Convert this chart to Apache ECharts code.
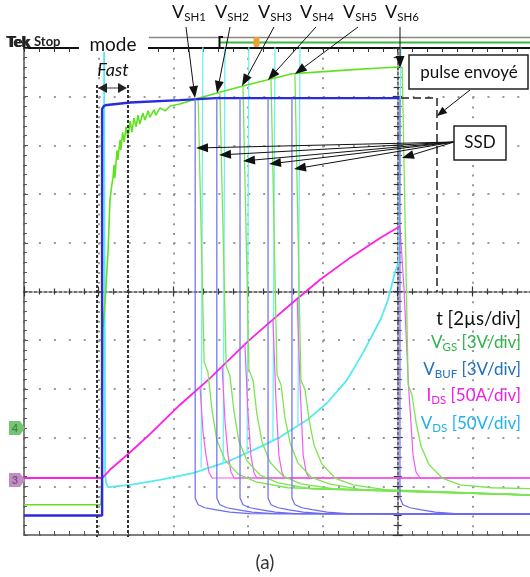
<!DOCTYPE html>
<html><head><meta charset="utf-8">
<script src="https://cdn.jsdelivr.net/npm/echarts@6/dist/echarts.min.js"></script>
<style>html,body{margin:0;padding:0;background:#fff}#c{width:530px;height:577px}</style>
</head><body><div id="c"></div>
<script>
// x: time in µs relative to trigger (2 µs/div), y: screen divisions (10 div tall)
const xRange = [-10, 4];
const yRange = [-5, 5];

// V_GS (green) common rising part
const vgsRise = [[-10,-4.38],[-7.94,-4.38],[-7.91,-3.66],[-7.89,-0.79],[-7.83,-0.17],[-7.81,0.03],[-7.75,0.85],[-7.70,1.88],[-7.65,2.19],[-7.62,2.33],[-7.59,2.60],[-7.57,2.33],[-7.51,2.90],[-7.49,2.70],[-7.43,3.11],[-7.41,2.90],[-7.36,3.27],[-7.32,3.07],[-7.27,3.38],[-7.22,3.15],[-7.16,3.50],[-7.11,3.27],[-7.06,3.56],[-7.00,3.38],[-6.95,3.62],[-6.90,3.44],[-6.82,3.66],[-6.76,3.52],[-6.68,3.71],[-6.63,3.58],[-6.52,3.73],[-6.47,3.62],[-6.36,3.77],[-6.22,3.71],[-6.09,3.81],[-5.83,3.85],[-5.42,3.95],[-4.81,4.08],[-4.14,4.22],[-3.42,4.36],[-2.83,4.47],[-2.08,4.51],[-1.28,4.55],[-0.47,4.59],[0.03,4.61]];
// V_GS turn-off tails, one per shot (SH1..SH6)
const vgsOff = [
 [[-5.34,3.96],[-5.18,-1.45],[-5.08,-1.65],[-4.97,-2.43],[-4.84,-3.05],[-4.62,-3.46],[-4.27,-3.75],[-3.79,-3.91],[-2.94,-4.03],[3.6,-4.18]],
 [[-4.76,4.10],[-4.59,-1.53],[-4.49,-1.73],[-4.38,-2.47],[-4.25,-3.07],[-4.03,-3.48],[-3.68,-3.77],[-3.20,-3.93],[-2.35,-4.05],[3.6,-4.18]],
 [[-4.14,4.22],[-3.98,-1.61],[-3.87,-1.82],[-3.77,-2.51],[-3.63,-3.09],[-3.42,-3.50],[-3.07,-3.79],[-2.59,-3.95],[-1.73,-4.05],[3.6,-4.18]],
 [[-3.39,4.36],[-3.23,-1.71],[-3.12,-1.92],[-3.02,-2.58],[-2.88,-3.11],[-2.67,-3.52],[-2.32,-3.81],[-1.84,-3.95],[-0.98,-4.07],[3.6,-4.18]],
 [[-2.75,4.47],[-2.59,-1.82],[-2.48,-2.02],[-2.37,-2.64],[-2.24,-3.15],[-2.03,-3.54],[-1.68,-3.83],[-1.20,-3.97],[-0.34,-4.07],[3.6,-4.18]],
 [[0.12,4.61],[0.28,-1.92],[0.38,-2.12],[0.49,-2.68],[0.62,-3.17],[0.84,-3.56],[1.19,-3.83],[1.67,-3.97],[2.52,-4.03],[3.6,-4.05]]
];
// V_BUF (blue)
const vbufRise = [[-10,-4.6],[-7.91,-4.6],[-7.91,3.75],[-7.86,3.81],[-7.78,3.83],[-7.16,3.88],[-5.83,3.93],[-4.87,3.97],[0.05,3.97]];
const vbufOff = [
 [[-5.42,3.97],[-5.42,-4.24],[-5.34,-4.38],[-5.16,-4.44],[-4.89,-4.48],[-4.49,-4.53],[-3.95,-4.56],[3.6,-4.57]],
 [[-4.84,3.97],[-4.84,-4.24],[-4.76,-4.38],[-4.57,-4.44],[-4.30,-4.48],[-3.90,-4.53],[-3.36,-4.56],[3.6,-4.57]],
 [[-4.22,3.97],[-4.22,-4.24],[-4.14,-4.38],[-3.95,-4.44],[-3.68,-4.48],[-3.28,-4.53],[-2.75,-4.56],[3.6,-4.57]],
 [[-3.47,3.97],[-3.47,-4.24],[-3.39,-4.38],[-3.20,-4.44],[-2.94,-4.48],[-2.53,-4.53],[-2.00,-4.56],[3.6,-4.57]],
 [[-2.83,3.97],[-2.83,-4.24],[-2.75,-4.38],[-2.56,-4.44],[-2.29,-4.48],[-1.89,-4.53],[-1.36,-4.56],[3.6,-4.57]],
 [[0.06,3.97],[0.06,-4.24],[0.14,-4.38],[0.33,-4.44],[0.60,-4.48],[1.00,-4.53],[1.53,-4.56],[3.6,-4.57]]
];
// I_DS (magenta)
const idsRise = [[-10,-3.83],[-7.91,-3.83],[-7.78,-3.73],[-7.70,-3.66],[-7.16,-3.30],[-6.63,-2.93],[-5.83,-2.33],[-5.02,-1.78],[-4.03,-1.04],[-3.42,-0.63],[-2.80,-0.22],[-2.08,0.24],[-1.28,0.69],[-0.47,1.10],[0.06,1.34]];
const idsOff = [
 [[-5.29,-1.96],[-5.21,-2.88],[-5.13,-3.36],[-5.05,-3.71],[-4.97,-3.83],[3.6,-3.83]],
 [[-4.70,-1.53],[-4.62,-2.68],[-4.54,-3.36],[-4.46,-3.71],[-4.38,-3.83],[3.6,-3.83]],
 [[-4.09,-1.08],[-4.01,-2.45],[-3.93,-3.36],[-3.85,-3.71],[-3.77,-3.83],[3.6,-3.83]],
 [[-3.34,-0.56],[-3.26,-2.19],[-3.18,-3.36],[-3.10,-3.71],[-3.02,-3.83],[3.6,-3.83]],
 [[-2.69,-0.17],[-2.61,-2.00],[-2.53,-3.36],[-2.45,-3.71],[-2.37,-3.83],[3.6,-3.83]],
 [[0.06,1.34],[0.17,0.03],[0.28,-1.82],[0.41,-3.36],[0.49,-3.71],[0.60,-3.83],[3.6,-3.83]]
];
// V_DS (cyan)
const vdsCurve = [[-10,5.8],[-7.86,5.8],[-7.83,-3.66],[-7.81,-3.91],[-7.75,-4.02],[-7.57,-4.00],[-7.16,-3.97],[-6.36,-3.87],[-5.48,-3.73],[-4.57,-3.50],[-3.68,-3.19],[-3.15,-2.99],[-2.43,-2.64],[-1.89,-2.29],[-1.36,-1.82],[-0.93,-1.26],[-0.45,-0.56],[-0.26,-0.17],[-0.07,0.40],[0.03,0.61]];
const vdsOff = [
 [[-5.26,-3.62],[-5.21,5.8]],
 [[-4.67,-3.52],[-4.62,5.8]],
 [[-4.03,-3.33],[-3.98,5.8]],
 [[-3.34,-3.06],[-3.28,5.8]],
 [[-2.67,-2.76],[-2.61,5.8]],
 [[0.03,0.61],[0.09,5.8]]
];
const shotLabels = ['SH1','SH2','SH3','SH4','SH5','SH6'];
const legendRows = [
 {main:'t [2µs/div]', sub:'', rest:'', color:'#111'},
 {main:'V', sub:'GS', rest:' [3V/div]', color:'#2fb34a'},
 {main:'V', sub:'BUF', rest:' [3V/div]', color:'#2070c0'},
 {main:'I', sub:'DS', rest:' [50A/div]', color:'#f01ee6'},
 {main:'V', sub:'DS', rest:' [50V/div]', color:'#1fb2ef'}
];

const FONT = 'Lato, "Open Sans", sans-serif';
const mctx = document.createElement('canvas').getContext('2d');
function textW(s, font){ mctx.font = font; return mctx.measureText(s).width; }
const G = [];
function txt(x, y, s, font, fill, align, z){
  G.push({type:'text', x:x, y:y, z:z||120, silent:true,
    style:{text:s, font:font, fill:fill||'#111', textAlign:align||'left', textVerticalAlign:'middle', align:align||'left', verticalAlign:'middle'}});
}
function ln(x1,y1,x2,y2,stroke,lw,dash,z){
  G.push({type:'line', z:z||110, silent:true, shape:{x1,y1,x2,y2}, style:{stroke:stroke||'#111', lineWidth:lw||1, lineDash:dash||null}});
}
function head(x1,y1,x2,y2,L,W,fill){
  const dx=x2-x1, dy=y2-y1, d=Math.hypot(dx,dy), ux=dx/d, uy=dy/d;
  const bx=x2-ux*L, by=y2-uy*L, px=-uy*W/2, py=ux*W/2;
  G.push({type:'polygon', z:115, silent:true, shape:{points:[[x2,y2],[bx+px,by+py],[bx-px,by-py]]}, style:{fill:fill||'#111'}});
  return [bx,by];
}
function arrow(x1,y1,x2,y2,L,W,lw){
  const b = head(x1,y1,x2,y2,L||11,W||9);
  ln(x1,y1,b[0],b[1],'#111',lw||1);
}
function subText(x, y, parts, fill, alignRight){
  const fonts = parts.map(p => p[1]);
  const widths = parts.map((p,i) => textW(p[0], fonts[i]));
  const total = widths.reduce((a,b)=>a+b,0);
  let cx = alignRight ? x - total : x;
  parts.forEach((p,i) => { if (p[0]) txt(cx, y + (p[2]||0), p[0], p[1], fill, 'left'); cx += widths[i]; });
}

// ---- top ribbon & header ----
G.push({type:'rect', z:50, silent:true, shape:{x:79, y:44, width:69, height:8}, style:{fill:'#fff'}});
ln(149,37.5,530,37.5,'#888',1.5,null,60);
ln(220,42.5,530,42.5,'#3cb83c',2,null,60);
G.push({type:'polyline', z:61, silent:true, shape:{points:[[223,37],[219.5,37],[219.5,48],[223,48]]}, style:{stroke:'#111', lineWidth:2, fill:null}});
G.push({type:'rect', z:61, silent:true, shape:{x:253.5, y:37, width:6, height:10, r:2}, style:{fill:'#f0a030'}});
txt(6, 42, 'Tek', 'bold 15px ' + FONT, '#222');
txt(7.5, 42, 'Tek', 'bold 15px ' + FONT, '#222');
txt(34, 42, 'Stop', 'bold 13px ' + FONT, '#222');
txt(113, 45, 'mode', '19px ' + FONT, '#111', 'center');
txt(113, 70, 'Fast', 'italic 18px ' + FONT, '#111', 'center');

// Fast box
ln(97,85,97,537,'#333',2,[3,2]);
ln(128,85,128,537,'#333',2,[3,2]);
{ const a = head(110,88,98,88,9,10,'#222'); const b = head(115,88,127,88,9,10,'#222'); ln(a[0],88,b[0],88,'#777',1.5); }

// V_SH labels and arrows
const shX = [172, 215, 258, 300, 343, 385];
const shFrom = [[186,27],[230,27],[274,27],[316,27],[358,27],[400,27]];
const shTip = [[195,98],[217,93],[242,86],[268,80],[295,74],[400,68]];
shotLabels.forEach((s,i) => {
  subText(shX[i], 12, [['V','18px '+FONT,0],[s,'11.5px '+FONT,5]], '#111', false);
  arrow(shFrom[i][0], shFrom[i][1], shTip[i][0], shTip[i][1], 12, 9, 1);
});

// pulse envoyé
G.push({type:'rect', z:112, silent:true, shape:{x:409, y:55, width:119, height:34}, style:{fill:'#fff', stroke:'#222', lineWidth:1.5}});
txt(469, 73, 'pulse envoyé', '17px ' + FONT, '#111', 'center');
arrow(470, 90, 437, 116, 10, 8, 1);
G.push({type:'polyline', z:110, silent:true, shape:{points:[[401,98],[437,98],[437,292]]}, style:{stroke:'#222', lineWidth:1.5, lineDash:[8,4], fill:null}});

// SSD
G.push({type:'rect', z:112, silent:true, shape:{x:454, y:126, width:52, height:34}, style:{fill:'#fff', stroke:'#222', lineWidth:1.5}});
txt(480, 143, 'SSD', '17px ' + FONT, '#111', 'center');
const ssdTips = [[196,148],[219,155],[243,161],[269,164],[294,169],[402,158]];
ssdTips.forEach(t => arrow(454, 142, t[0], t[1], 12, 9, 1));

// legend block
const legY = [319, 343, 370, 396, 424];
legendRows.forEach((r,i) => {
  const fs = i === 0 ? 18.5 : 17;
  subText(521, legY[i], [[r.main,fs+'px '+FONT,0],[r.sub,'11.5px '+FONT,4],[r.rest,fs+'px '+FONT,0]], r.color, true);
});

// channel tags
G.push({type:'polygon', z:115, silent:true, shape:{points:[[9,421],[20,421],[25,428],[20,435],[9,435]]}, style:{fill:'#74c474'}});
txt(15, 428.5, '4', 'bold 11px ' + FONT, '#3d8b3d', 'center');
G.push({type:'polygon', z:115, silent:true, shape:{points:[[9,473],[20,473],[25,480],[20,487],[9,487]]}, style:{fill:'#c48bc4'}});
txt(15, 480.5, '3', 'bold 11px ' + FONT, '#7a4f7a', 'center');

txt(265, 563, '(a)', '19px ' + FONT, '#333', 'center');

// ---- series ----
function S(data, color, width, z){
  return {type:'line', data:data, xAxisIndex:0, yAxisIndex:0, symbol:'none', showSymbol:false, clip:true, animation:false, silent:true, z:z||2, lineStyle:{color:color, width:width}};
}
const series = [];
series.push(S(vdsCurve, '#55e9f2', 1.8, 2));
vdsOff.forEach(d => series.push(S(d, '#74eef5', 1.3, 2)));
series.push(S(idsRise, '#ff1ee8', 1.8, 3));
idsOff.forEach(d => series.push(S(d, '#f55aee', 1.2, 3)));
series.push(S(vgsRise, '#5fe31f', 1.6, 4));
vgsOff.forEach(d => series.push(S(d, '#7be552', 1.3, 4)));
series.push(S(vbufRise, '#2a2ae2', 2.4, 5));
vbufOff.forEach(d => series.push(S(d, '#6b6bef', 1.2, 5)));

const dotH = {show:true, lineStyle:{color:'#9a9a9a', width:2, type:[2,12.95]}};
const dotV = {show:true, lineStyle:{color:'#9a9a9a', width:2, type:[2,7.74]}};
function xa(extra){ return Object.assign({type:'value', min:xRange[0], max:xRange[1], interval:2, axisLabel:{show:false}, splitLine:{show:false}}, extra); }
function ya(extra){ return Object.assign({type:'value', min:yRange[0], max:yRange[1], interval:1, axisLabel:{show:false}, splitLine:{show:false}}, extra); }

const option = {
  animation:false,
  backgroundColor:'#fff',
  grid:{left:24, top:48, width:523.2, height:487, containLabel:false, outerBoundsMode:'none'},
  xAxis:[
    xa({position:'bottom', axisLine:{onZero:false, lineStyle:{color:'#555', width:1.5}}, axisTick:{show:true, inside:true, length:4, lineStyle:{color:'#555'}}, minorTick:{show:true, splitNumber:5, length:4, lineStyle:{color:'#555'}}, splitLine:dotV}),
    xa({position:'top', axisLine:{onZero:false, lineStyle:{color:'#111', width:2}}, axisTick:{show:true, inside:true, length:4, lineStyle:{color:'#333'}}, minorTick:{show:true, splitNumber:5, length:4, lineStyle:{color:'#333'}}}),
    xa({position:'bottom', axisLine:{onZero:true, onZeroAxisIndex:0, lineStyle:{color:'#444', width:1.5, type:[3,2]}}, axisTick:{show:true, inside:true, length:5, lineStyle:{color:'#333', width:1.2}}, minorTick:{show:true, splitNumber:5, length:3, lineStyle:{color:'#333', width:1.2}}}),
    xa({position:'bottom', axisLine:{show:false, onZero:true, onZeroAxisIndex:0}, axisTick:{show:true, inside:false, length:5, lineStyle:{color:'#333', width:1.2}}, minorTick:{show:true, splitNumber:5, length:3, lineStyle:{color:'#333', width:1.2}}})
  ],
  yAxis:[
    ya({position:'left', axisLine:{onZero:false, lineStyle:{color:'#555', width:1.5}}, axisTick:{show:true, inside:true, length:4, lineStyle:{color:'#555'}}, minorTick:{show:true, splitNumber:5, length:3, lineStyle:{color:'#555'}}, splitLine:dotH}),
    ya({position:'left', axisLine:{onZero:true, onZeroAxisIndex:0, lineStyle:{color:'#444', width:1.5, type:[3,2]}}, axisTick:{show:true, inside:true, length:5, lineStyle:{color:'#333', width:1.2}}, minorTick:{show:true, splitNumber:5, length:4, lineStyle:{color:'#333', width:1.2}}}),
    ya({position:'left', axisLine:{show:false, onZero:true, onZeroAxisIndex:0}, axisTick:{show:true, inside:false, length:5, lineStyle:{color:'#333', width:1.2}}, minorTick:{show:true, splitNumber:5, length:4, lineStyle:{color:'#333', width:1.2}}})
  ],
  series: series,
  graphic: G
};
const chart = echarts.init(document.getElementById('c'), null, {renderer:'canvas', width:530, height:577});
chart.setOption(option);
</script>
</body></html>
